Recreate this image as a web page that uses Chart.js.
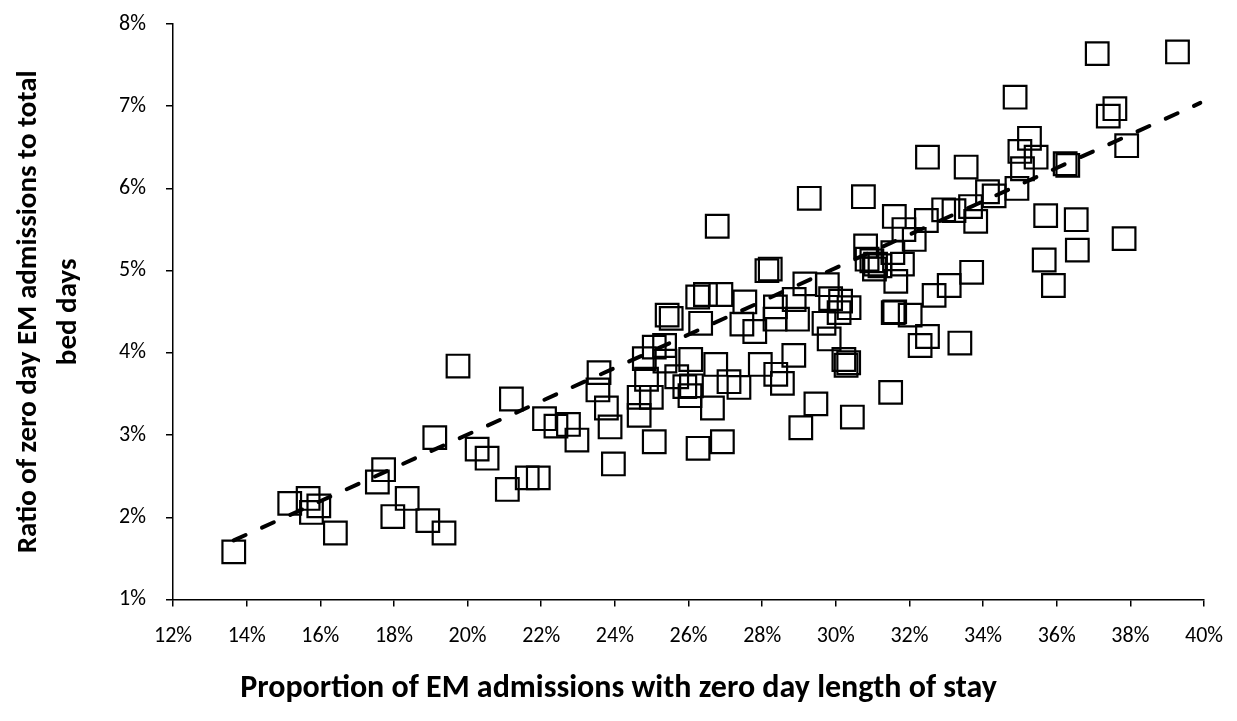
<!DOCTYPE html>
<html>
<head>
<meta charset="utf-8">
<script src="https://cdn.jsdelivr.net/npm/chart.js@4.4.1/dist/chart.umd.min.js"></script>
<style>
  html, body { margin: 0; padding: 0; background: #fff; }
</style>
</head>
<body>
<canvas id="chart" width="1237" height="721"></canvas>
<script>
// proportion of EM admissions with zero day LOS (%)
const zeroDayShare = [
  13.65, 15.17, 15.67, 15.76, 15.96, 16.41, 17.55, 17.72, 17.97, 18.36,
  18.92, 19.36, 19.11, 19.74, 20.26, 20.53, 21.19, 21.08, 21.62, 21.92,
  22.09, 22.40, 22.74, 22.97, 23.57, 23.54, 23.77, 23.87, 23.96, 24.66,
  24.66, 24.86, 24.99, 24.80, 25.07, 25.35, 25.42, 25.53, 25.07, 25.36,
  25.90, 26.04, 26.26, 25.68, 26.06, 26.65, 26.92, 26.33, 26.74, 27.10,
  27.37, 27.45, 27.80, 27.95, 28.37, 28.55, 28.86, 29.05, 26.78, 31.59,
  31.85, 30.81, 30.85, 30.98, 31.08, 31.20, 31.05, 31.55, 31.63, 31.81,
  28.13, 28.22, 26.25, 26.88, 26.46, 27.53, 28.36, 28.87, 29.16, 28.96,
  28.35, 29.77, 29.86, 30.13, 30.36, 29.68, 29.82, 30.09, 30.22, 30.35,
  30.28, 31.49, 30.45, 29.46, 29.28, 30.75, 32.49, 33.54, 32.46, 32.13,
  32.93, 33.21, 33.66, 34.12, 34.30, 33.80, 34.92, 35.07, 36.23, 36.30,
  31.56, 31.60, 32.02, 32.67, 33.08, 33.69, 32.29, 32.49, 33.37, 35.66,
  35.91, 35.70, 36.53, 36.56, 37.83, 37.10, 39.28, 34.87, 37.58, 37.40,
  37.90, 35.26, 35.00, 35.44, 26.08
];
// ratio of zero day EM admissions to total bed days (%)
const zeroDayRatio = [
  1.58, 2.17, 2.23, 2.06, 2.14, 1.81, 2.43, 2.58, 2.01, 2.23,
  1.96, 1.81, 2.97, 3.84, 2.83, 2.72, 3.44, 2.34, 2.48, 2.48,
  3.20, 3.11, 3.13, 2.94, 3.76, 3.55, 3.33, 3.10, 2.65, 3.46,
  3.24, 3.68, 3.46, 3.93, 4.07, 4.09, 4.46, 4.42, 2.92, 3.90,
  3.59, 3.48, 2.84, 3.71, 3.92, 3.33, 2.92, 4.36, 3.86, 3.65,
  3.58, 4.35, 4.26, 3.86, 3.74, 3.63, 3.97, 3.09, 5.54, 5.66,
  5.50, 5.30, 5.14, 5.12, 5.08, 5.06, 5.02, 5.22, 4.87, 5.08,
  5.00, 5.02, 4.68, 4.71, 4.71, 4.62, 4.56, 4.65, 4.84, 4.41,
  4.41, 4.83, 4.66, 4.63, 4.55, 4.36, 4.17, 4.49, 3.92, 3.88,
  3.85, 3.52, 3.22, 3.38, 5.88, 5.90, 6.38, 6.26, 5.61, 5.38,
  5.74, 5.73, 5.78, 5.96, 5.91, 5.60, 6.00, 6.24, 6.30, 6.28,
  4.49, 4.50, 4.46, 4.70, 4.82, 4.98, 4.09, 4.20, 4.12, 5.13,
  4.82, 5.67, 5.62, 5.25, 5.39, 7.64, 7.66, 7.11, 6.97, 6.88,
  6.52, 6.61, 6.45, 6.38, 3.60
];
// linear trend line end points
const trendX = [13.65, 39.9];
const trendY = [1.72, 7.04];

const xTitle = 'Proportion of EM admissions with zero day length of stay';
const yTitle = ['Ratio of zero day EM admissions to total', 'bed days'];

const fontFamily = "'Carlito', 'Lato', sans-serif";
const pct = v => v + '%';

const ctx = document.getElementById('chart').getContext('2d');
new Chart(ctx, {
  type: 'scatter',
  data: {
    datasets: [
      {
        label: 'Trusts',
        data: zeroDayShare.map((x, i) => ({ x: x, y: zeroDayRatio[i] })),
        pointStyle: 'rect',
        pointRadius: 16,
        pointHoverRadius: 16,
        pointBorderWidth: 2.2,
        borderColor: '#000',
        pointBackgroundColor: 'rgba(0,0,0,0)',
        backgroundColor: 'rgba(0,0,0,0)'
      },
      {
        label: 'Trend',
        type: 'line',
        data: trendX.map((x, i) => ({ x: x, y: trendY[i] })),
        showLine: true,
        pointRadius: 0,
        borderColor: '#000',
        borderWidth: 4,
        borderDash: [13, 18],
        borderCapStyle: 'round',
        fill: false
      }
    ]
  },
  options: {
    responsive: false,
    animation: false,
    devicePixelRatio: 1,
    layout: { padding: { top: 24, right: 0, left: 0, bottom: 0 } },
    plugins: {
      legend: { display: false },
      tooltip: { enabled: false },
      title: {
        display: true,
        position: 'bottom',
        text: xTitle,
        color: '#000',
        font: { family: fontFamily, size: 32, weight: 'bold', lineHeight: 1.2 },
        padding: { top: 18, bottom: 13 }
      }
    },
    scales: {
      x: {
        type: 'linear',
        min: 12,
        max: 40,
        ticks: {
          stepSize: 2,
          callback: pct,
          color: '#000',
          font: { family: fontFamily, size: 22, lineHeight: 1.2 },
          padding: 17,
          maxRotation: 0
        },
        grid: { drawOnChartArea: false, drawTicks: true, tickLength: 7, color: '#000', lineWidth: 1.5 },
        border: { color: '#000', width: 1.5 },
        afterFit: scale => {
          scale.height = 52;
          scale.paddingRight = 33;
        }
      },
      y: {
        type: 'linear',
        min: 1,
        max: 8,
        ticks: {
          stepSize: 1,
          callback: pct,
          color: '#000',
          font: { family: fontFamily, size: 22 },
          padding: 20
        },
        grid: { drawOnChartArea: false, drawTicks: true, tickLength: 7, color: '#000', lineWidth: 1.5 },
        border: { color: '#000', width: 1.5 },
        title: {
          display: true,
          text: yTitle,
          color: '#000',
          font: { family: fontFamily, size: 29, weight: 'bold', lineHeight: 1.4 },
          padding: { top: 8, bottom: 0 }
        },
        afterFit: scale => {
          scale.width = 173;
          scale.paddingTop = 0;
          scale.paddingBottom = 0;
        }
      }
    }
  }
});
</script>
</body>
</html>
